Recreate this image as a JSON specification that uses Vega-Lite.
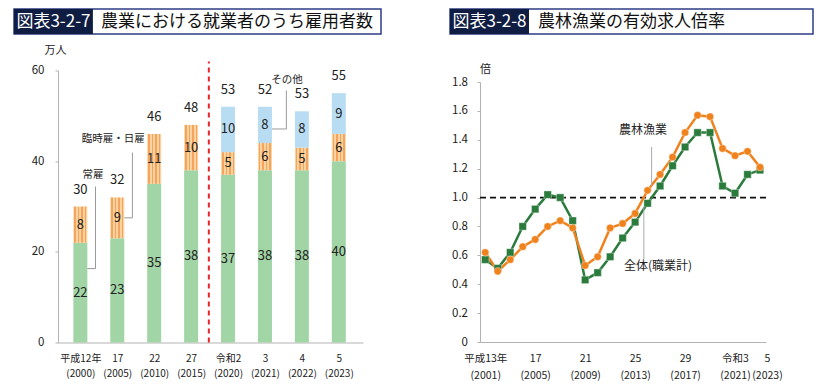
{
  "$schema": "https://vega.github.io/schema/vega-lite/v6.json",
  "padding": {"left": 13, "top": 8, "right": 0, "bottom": 0},
  "autosize": {"type": "pad"},
  "background": "white",
  "config": {
    "view": {"stroke": null},
    "font": "Noto Sans CJK JP",
    "text": {"font": "Noto Sans CJK JP"},
    "axis": {"domainColor": "#b3b3b3", "tickColor": "#b3b3b3", "labelColor": "#222222", "titleColor": "#222222", "grid": false, "labelFont": "Noto Sans CJK JP", "titleFont": "Noto Sans CJK JP", "titleFontWeight": "normal"},
    "axisY": {"labelOverlap": false}
  },
  "datasets": {
    "jobs": [
      {"i": 0, "year": "平成12年", "cat": "常雇", "k": 1, "v": 22},
      {"i": 0, "year": "平成12年", "cat": "臨時雇・日雇", "k": 2, "v": 8},
      {"i": 1, "year": "17", "cat": "常雇", "k": 1, "v": 23},
      {"i": 1, "year": "17", "cat": "臨時雇・日雇", "k": 2, "v": 9},
      {"i": 2, "year": "22", "cat": "常雇", "k": 1, "v": 35},
      {"i": 2, "year": "22", "cat": "臨時雇・日雇", "k": 2, "v": 11},
      {"i": 3, "year": "27", "cat": "常雇", "k": 1, "v": 38},
      {"i": 3, "year": "27", "cat": "臨時雇・日雇", "k": 2, "v": 10},
      {"i": 4, "year": "令和2", "cat": "常雇", "k": 1, "v": 37},
      {"i": 4, "year": "令和2", "cat": "臨時雇・日雇", "k": 2, "v": 5},
      {"i": 4, "year": "令和2", "cat": "その他", "k": 3, "v": 10},
      {"i": 5, "year": "3", "cat": "常雇", "k": 1, "v": 38},
      {"i": 5, "year": "3", "cat": "臨時雇・日雇", "k": 2, "v": 6},
      {"i": 5, "year": "3", "cat": "その他", "k": 3, "v": 8},
      {"i": 6, "year": "4", "cat": "常雇", "k": 1, "v": 38},
      {"i": 6, "year": "4", "cat": "臨時雇・日雇", "k": 2, "v": 5},
      {"i": 6, "year": "4", "cat": "その他", "k": 3, "v": 8},
      {"i": 7, "year": "5", "cat": "常雇", "k": 1, "v": 40},
      {"i": 7, "year": "5", "cat": "臨時雇・日雇", "k": 2, "v": 6},
      {"i": 7, "year": "5", "cat": "その他", "k": 3, "v": 9}
    ],
    "totals": [
      {"i": 0, "total": 30}, {"i": 1, "total": 32}, {"i": 2, "total": 46}, {"i": 3, "total": 48},
      {"i": 4, "total": 53}, {"i": 5, "total": 52}, {"i": 6, "total": 53}, {"i": 7, "total": 55}
    ],
    "ratio": [
      {"year": 2001, "s": "全体(職業計)", "v": 0.57}, {"year": 2002, "s": "全体(職業計)", "v": 0.51},
      {"year": 2003, "s": "全体(職業計)", "v": 0.62}, {"year": 2004, "s": "全体(職業計)", "v": 0.80},
      {"year": 2005, "s": "全体(職業計)", "v": 0.92}, {"year": 2006, "s": "全体(職業計)", "v": 1.02},
      {"year": 2007, "s": "全体(職業計)", "v": 1.00}, {"year": 2008, "s": "全体(職業計)", "v": 0.84},
      {"year": 2009, "s": "全体(職業計)", "v": 0.43}, {"year": 2010, "s": "全体(職業計)", "v": 0.48},
      {"year": 2011, "s": "全体(職業計)", "v": 0.59}, {"year": 2012, "s": "全体(職業計)", "v": 0.72},
      {"year": 2013, "s": "全体(職業計)", "v": 0.83}, {"year": 2014, "s": "全体(職業計)", "v": 0.96},
      {"year": 2015, "s": "全体(職業計)", "v": 1.08}, {"year": 2016, "s": "全体(職業計)", "v": 1.22},
      {"year": 2017, "s": "全体(職業計)", "v": 1.35}, {"year": 2018, "s": "全体(職業計)", "v": 1.45},
      {"year": 2019, "s": "全体(職業計)", "v": 1.45}, {"year": 2020, "s": "全体(職業計)", "v": 1.08},
      {"year": 2021, "s": "全体(職業計)", "v": 1.03}, {"year": 2022, "s": "全体(職業計)", "v": 1.16},
      {"year": 2023, "s": "全体(職業計)", "v": 1.19},
      {"year": 2001, "s": "農林漁業", "v": 0.62}, {"year": 2002, "s": "農林漁業", "v": 0.49},
      {"year": 2003, "s": "農林漁業", "v": 0.57}, {"year": 2004, "s": "農林漁業", "v": 0.66},
      {"year": 2005, "s": "農林漁業", "v": 0.71}, {"year": 2006, "s": "農林漁業", "v": 0.80},
      {"year": 2007, "s": "農林漁業", "v": 0.84}, {"year": 2008, "s": "農林漁業", "v": 0.79},
      {"year": 2009, "s": "農林漁業", "v": 0.53}, {"year": 2010, "s": "農林漁業", "v": 0.59},
      {"year": 2011, "s": "農林漁業", "v": 0.79}, {"year": 2012, "s": "農林漁業", "v": 0.82},
      {"year": 2013, "s": "農林漁業", "v": 0.89}, {"year": 2014, "s": "農林漁業", "v": 1.05},
      {"year": 2015, "s": "農林漁業", "v": 1.16}, {"year": 2016, "s": "農林漁業", "v": 1.28},
      {"year": 2017, "s": "農林漁業", "v": 1.45}, {"year": 2018, "s": "農林漁業", "v": 1.57},
      {"year": 2019, "s": "農林漁業", "v": 1.56}, {"year": 2020, "s": "農林漁業", "v": 1.34},
      {"year": 2021, "s": "農林漁業", "v": 1.29}, {"year": 2022, "s": "農林漁業", "v": 1.32},
      {"year": 2023, "s": "農林漁業", "v": 1.21}
    ]
  },
  "spacing": 67,
  "hconcat": [
    {
      "spacing": 9.5,
      "vconcat": [
        {
          "width": 305,
          "height": 25,
          "layer": [
            {
              "data": {"values": [{"a": 0, "b": 1}]},
              "mark": {"type": "rect", "fill": "#ffffff", "stroke": "#2e3d85", "strokeWidth": 1.5},
              "encoding": {
                "x": {"field": "a", "type": "quantitative", "scale": {"domain": [0, 1], "range": [-44, 323]}, "axis": null},
                "x2": {"field": "b"}
              }
            },
            {
              "data": {"values": [{"a": 0, "b": 0.215}]},
              "mark": {"type": "rect", "fill": "#0f1d42"},
              "encoding": {"x": {"field": "a", "type": "quantitative", "axis": null}, "x2": {"field": "b"}}
            },
            {
              "data": {"values": [{"m": 0.1075, "t": "図表3-2-7"}]},
              "mark": {"type": "text", "color": "#ffffff", "fontSize": 17, "align": "center", "baseline": "middle"},
              "encoding": {"x": {"field": "m", "type": "quantitative", "axis": null}, "text": {"field": "t"}}
            },
            {
              "data": {"values": [{"m": 0.215, "t": "農業における就業者のうち雇用者数"}]},
              "mark": {"type": "text", "color": "#111111", "fontSize": 17, "align": "left", "baseline": "middle", "dx": 8},
              "encoding": {"x": {"field": "m", "type": "quantitative", "axis": null}, "text": {"field": "t"}}
            }
          ]
        },
        {
          "width": 305,
          "height": 272,
          "layer": [
            {
              "data": {"name": "jobs"},
              "transform": [{"stack": "v", "groupby": ["i"], "sort": [{"field": "k"}], "as": ["v0", "v1"]}],
              "mark": {"type": "bar", "orient": "vertical", "width": 14},
              "encoding": {
                "x": {
                  "field": "i", "type": "quantitative",
                  "scale": {"domain": [-0.47, 7.52], "nice": false, "zero": false},
                  "axis": {
                    "values": [0, 1, 2, 3, 4, 5, 6, 7],
                    "labelExpr": "[['平成12年','(2000)'],['17','(2005)'],['22','(2010)'],['27','(2015)'],['令和2','(2020)'],['3','(2021)'],['4','(2022)'],['5','(2023)']][datum.value]",
                    "title": null, "ticks": false, "labelFontSize": 10, "labelPadding": 11, "labelLineHeight": 14.7,
                    "labelBaseline": "top", "labelAngle": 0, "labelOverlap": false, "labelBound": false
                  }
                },
                "y": {
                  "field": "v0", "type": "quantitative",
                  "scale": {"domain": [0, 60], "nice": false},
                  "axis": {
                    "values": [0, 20, 40, 60], "title": "万人", "titleAngle": 0, "titleX": -3, "titleY": -20,
                    "titleAlign": "center", "titleBaseline": "middle", "titleFontSize": 11,
                    "labelFontSize": 11.5, "tickSize": 3, "labelPadding": 11, "labelOverlap": false
                  }
                },
                "y2": {"field": "v1"},
                "fill": {
                  "condition": [
                    {
                      "test": "datum.cat === '臨時雇・日雇'",
                      "value": {
                        "gradient": "linear", "x1": 0, "x2": 1, "y1": 0, "y2": 0,
                        "stops": [
                          {"offset": 0, "color": "#fbd3a0"}, {"offset": 0.07, "color": "#fbd3a0"},
                          {"offset": 0.07, "color": "#f4a45c"}, {"offset": 0.18, "color": "#f4a45c"},
                          {"offset": 0.18, "color": "#fbd3a0"}, {"offset": 0.32, "color": "#fbd3a0"},
                          {"offset": 0.32, "color": "#f4a45c"}, {"offset": 0.43, "color": "#f4a45c"},
                          {"offset": 0.43, "color": "#fbd3a0"}, {"offset": 0.57, "color": "#fbd3a0"},
                          {"offset": 0.57, "color": "#f4a45c"}, {"offset": 0.68, "color": "#f4a45c"},
                          {"offset": 0.68, "color": "#fbd3a0"}, {"offset": 0.82, "color": "#fbd3a0"},
                          {"offset": 0.82, "color": "#f4a45c"}, {"offset": 0.93, "color": "#f4a45c"},
                          {"offset": 0.93, "color": "#fbd3a0"}, {"offset": 1, "color": "#fbd3a0"}
                        ]
                      }
                    },
                    {"test": "datum.cat === 'その他'", "value": "#b8ddf3"}
                  ],
                  "value": "#a2d5a5"
                }
              }
            },
            {
              "data": {"name": "jobs"},
              "transform": [
                {"stack": "v", "groupby": ["i"], "sort": [{"field": "k"}], "as": ["v0", "v1"]},
                {"fold": ["v0", "v1"], "as": ["edge", "pos"]}
              ],
              "mark": {"type": "text", "fontSize": 13, "color": "#222222", "baseline": "middle", "align": "center"},
              "encoding": {
                "x": {"field": "i", "type": "quantitative"},
                "y": {"aggregate": "mean", "field": "pos", "type": "quantitative"},
                "detail": {"field": "k"},
                "text": {"field": "v", "type": "quantitative"}
              }
            },
            {
              "data": {"name": "jobs"},
              "transform": [
                {"aggregate": [{"op": "sum", "field": "v", "as": "top"}], "groupby": ["i"]},
                {"lookup": "i", "from": {"data": {"name": "totals"}, "key": "i", "fields": ["total"]}}
              ],
              "mark": {"type": "text", "fontSize": 13, "color": "#222222", "baseline": "middle", "align": "center", "dy": -17},
              "encoding": {
                "x": {"field": "i", "type": "quantitative"},
                "y": {"field": "top", "type": "quantitative"},
                "text": {"field": "total", "type": "quantitative"}
              }
            },
            {
              "data": {"values": [{"i": 3.48, "y0": 0, "y1": 62}]},
              "mark": {"type": "rule", "color": "#e8262a", "strokeWidth": 2, "strokeDash": [5, 4]},
              "encoding": {
                "x": {"field": "i", "type": "quantitative"},
                "y": {"field": "y0", "type": "quantitative"},
                "y2": {"field": "y1"}
              }
            },
            {
              "data": {"values": [
                {"x0": 0.41, "x1": 0.41, "y0": 34.4, "y1": 16.3},
                {"x0": 0.19, "x1": 0.41, "y0": 16.3, "y1": 16.3},
                {"x0": 1.41, "x1": 1.41, "y0": 41.9, "y1": 27.5},
                {"x0": 1.19, "x1": 1.41, "y0": 27.5, "y1": 27.5},
                {"x0": 5.58, "x1": 5.58, "y0": 55.6, "y1": 47.1},
                {"x0": 5.19, "x1": 5.58, "y0": 47.1, "y1": 47.1}
              ]},
              "mark": {"type": "rule", "color": "#999999", "strokeWidth": 1},
              "encoding": {
                "x": {"field": "x0", "type": "quantitative"},
                "x2": {"field": "x1"},
                "y": {"field": "y0", "type": "quantitative"},
                "y2": {"field": "y1"}
              }
            },
            {
              "data": {"values": [
                {"i": 0.34, "y": 37, "t": "常雇"},
                {"i": 0.89, "y": 45, "t": "臨時雇・日雇"},
                {"i": 5.6, "y": 57.8, "t": "その他"}
              ]},
              "mark": {"type": "text", "fontSize": 10.5, "color": "#222222", "align": "center", "baseline": "middle"},
              "encoding": {
                "x": {"field": "i", "type": "quantitative"},
                "y": {"field": "y", "type": "quantitative"},
                "text": {"field": "t"}
              }
            }
          ]
        }
      ]
    },
    {
      "spacing": 28,
      "vconcat": [
        {
          "width": 286,
          "height": 25,
          "layer": [
            {
              "data": {"values": [{"a": 0, "b": 1}]},
              "mark": {"type": "rect", "fill": "#ffffff", "stroke": "#2e3d85", "strokeWidth": 1.5},
              "encoding": {
                "x": {"field": "a", "type": "quantitative", "scale": {"domain": [0, 1], "range": [-30, 333]}, "axis": null},
                "x2": {"field": "b"}
              }
            },
            {
              "data": {"values": [{"a": 0, "b": 0.2176}]},
              "mark": {"type": "rect", "fill": "#0f1d42"},
              "encoding": {"x": {"field": "a", "type": "quantitative", "axis": null}, "x2": {"field": "b"}}
            },
            {
              "data": {"values": [{"m": 0.1088, "t": "図表3-2-8"}]},
              "mark": {"type": "text", "color": "#ffffff", "fontSize": 17, "align": "center", "baseline": "middle"},
              "encoding": {"x": {"field": "m", "type": "quantitative", "axis": null}, "text": {"field": "t"}}
            },
            {
              "data": {"values": [{"m": 0.2176, "t": "農林漁業の有効求人倍率"}]},
              "mark": {"type": "text", "color": "#111111", "fontSize": 17, "align": "left", "baseline": "middle", "dx": 9},
              "encoding": {"x": {"field": "m", "type": "quantitative", "axis": null}, "text": {"field": "t"}}
            }
          ]
        },
        {
          "width": 286,
          "height": 260,
          "encoding": {
            "y": {
              "type": "quantitative",
              "scale": {"domain": [0, 1.8], "nice": false},
              "axis": {
                "values": [0, 0.2, 0.4, 0.6, 0.8, 1, 1.2, 1.4, 1.6, 1.8],
                "labelExpr": "datum.value == 0 ? '0' : format(datum.value, '.1f')",
                "title": "倍", "titleAngle": 0, "titleX": 5, "titleY": -13,
                "titleAlign": "center", "titleBaseline": "middle", "titleFontSize": 11,
                "labelFontSize": 11.5, "tickSize": 3, "labelPadding": 9.5, "labelOverlap": false, "labelSeparation": 0
              }
            }
          },
          "layer": [
            {
              "data": {"values": [{"v": 1}]},
              "mark": {"type": "rule", "color": "#111111", "strokeWidth": 1.8, "strokeDash": [6, 4]},
              "encoding": {"y": {"field": "v", "type": "quantitative"}}
            },
            {
              "data": {"name": "ratio"},
              "mark": {"type": "line", "strokeWidth": 2.5},
              "encoding": {
                "x": {
                  "field": "year", "type": "quantitative",
                  "scale": {"domain": [2000.58, 2023.48], "nice": false, "zero": false},
                  "axis": {
                    "values": [2001, 2005, 2009, 2013, 2017, 2021, 2023],
                    "labelExpr": "datum.value == 2023 ? ['5','(2023)'] : [['平成13年','(2001)'],['17','(2005)'],['21','(2009)'],['25','(2013)'],['29','(2017)'],['令和3','(2021)']][(datum.value - 2001) / 4]",
                    "labelOffset": {"condition": {"test": "datum.value == 2023", "value": 7}, "value": 0},
                    "title": null, "ticks": false, "labelFontSize": 10.5, "labelPadding": 11, "labelLineHeight": 17.4,
                    "labelBaseline": "top", "labelAngle": 0, "labelOverlap": false, "labelBound": false
                  }
                },
                "y": {"field": "v", "type": "quantitative"},
                "color": {"field": "s", "type": "nominal", "scale": {"domain": ["全体(職業計)", "農林漁業"], "range": ["#2a7b3c", "#f0821e"]}, "legend": null}
              }
            },
            {
              "data": {"name": "ratio"},
              "mark": {"type": "point", "filled": true, "size": 55, "opacity": 1, "stroke": "#ffffff", "strokeWidth": 0.8, "strokeOpacity": 0.45},
              "encoding": {
                "x": {"field": "year", "type": "quantitative"},
                "y": {"field": "v", "type": "quantitative"},
                "color": {"field": "s", "type": "nominal", "legend": null},
                "shape": {"field": "s", "type": "nominal", "scale": {"domain": ["全体(職業計)", "農林漁業"], "range": ["square", "circle"]}, "legend": null}
              }
            },
            {
              "data": {"values": [
                {"x0": 2014.32, "v": 1.35, "v2": 1.08},
                {"x0": 2013.7, "v": 0.574, "v2": 0.93}
              ]},
              "mark": {"type": "rule", "color": "#aaaaaa", "strokeWidth": 1},
              "encoding": {
                "x": {"field": "x0", "type": "quantitative"},
                "y": {"field": "v", "type": "quantitative"},
                "y2": {"field": "v2"}
              }
            },
            {
              "data": {"values": [
                {"x0": 2013.64, "v": 1.471, "t": "農林漁業"},
                {"x0": 2014.84, "v": 0.526, "t": "全体(職業計)"}
              ]},
              "mark": {"type": "text", "fontSize": 12, "color": "#222222", "align": "center", "baseline": "middle"},
              "encoding": {
                "x": {"field": "x0", "type": "quantitative"},
                "y": {"field": "v", "type": "quantitative"},
                "text": {"field": "t"}
              }
            }
          ]
        }
      ]
    }
  ]
}
